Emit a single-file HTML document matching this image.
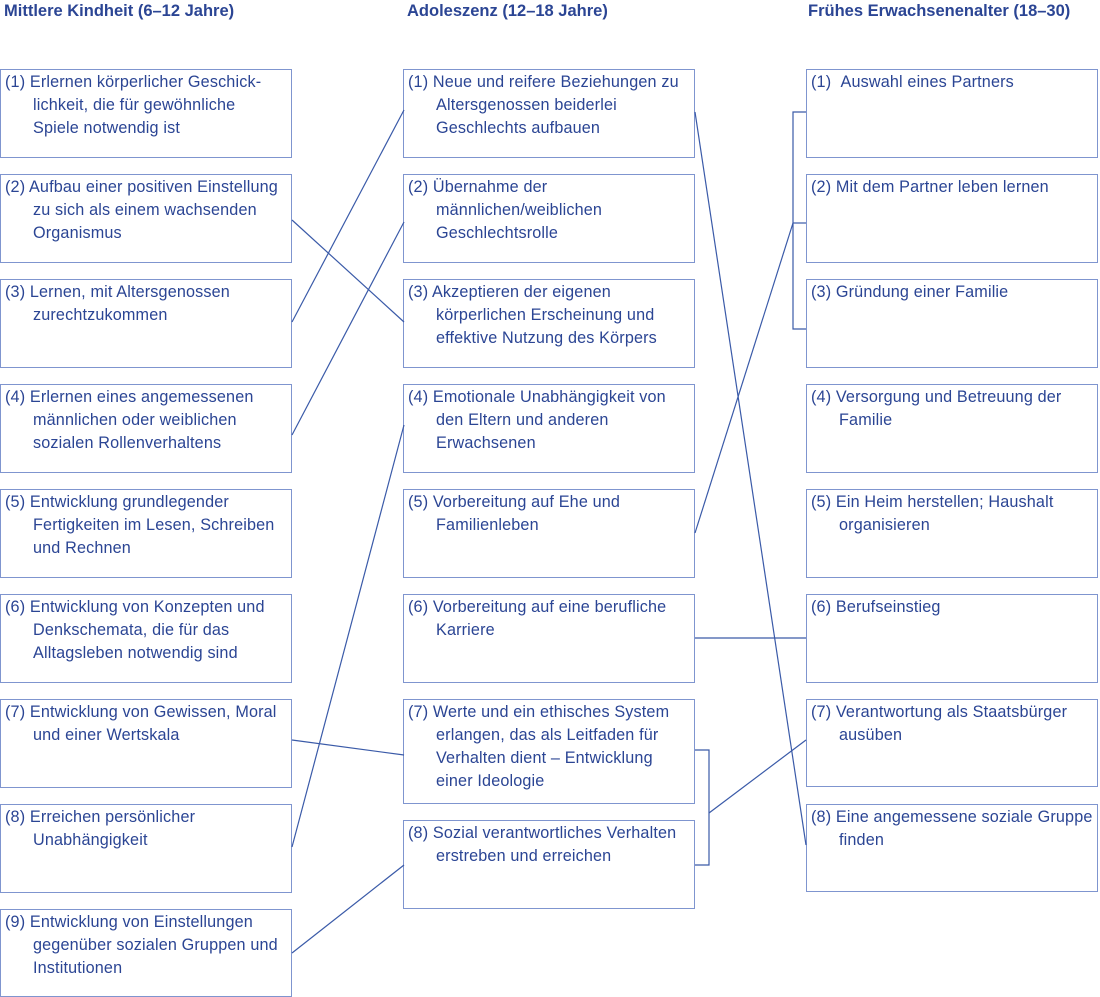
<!DOCTYPE html>
<html><head><meta charset="utf-8"><style>
body{margin:0;width:1100px;height:997px;position:relative;background:#fff;font-family:"Liberation Sans",sans-serif;color:#2b4594;overflow:hidden}
.h{position:absolute;top:2px;font-weight:bold;font-size:16.5px}
.b{position:absolute;width:292px;border:1px solid #7f95cf;box-sizing:border-box;font-size:16.2px;line-height:23px;padding:1px 2px 0 32px;text-indent:-28px;white-space:nowrap;letter-spacing:0.15px}
.b span{display:block;text-indent:0}
svg{position:absolute;left:0;top:0}
</style></head><body>
<div class="h" style="left:4px">Mittlere Kindheit (6–12 Jahre)</div>
<div class="h" style="left:407px">Adoleszenz (12–18 Jahre)</div>
<div class="h" style="left:808px">Frühes Erwachsenenalter (18–30)</div>

<div class="b" style="left:0;top:69px;height:89px">(1) Erlernen körperlicher Geschick-<span>lichkeit, die für gewöhnliche</span><span>Spiele notwendig ist</span></div>
<div class="b" style="left:0;top:174px;height:89px">(2) Aufbau einer positiven Einstellung<span>zu sich als einem wachsenden</span><span>Organismus</span></div>
<div class="b" style="left:0;top:279px;height:89px">(3) Lernen, mit Altersgenossen<span>zurechtzukommen</span></div>
<div class="b" style="left:0;top:384px;height:89px">(4) Erlernen eines angemessenen<span>männlichen oder weiblichen</span><span>sozialen Rollenverhaltens</span></div>
<div class="b" style="left:0;top:489px;height:89px">(5) Entwicklung grundlegender<span>Fertigkeiten im Lesen, Schreiben</span><span>und Rechnen</span></div>
<div class="b" style="left:0;top:594px;height:89px">(6) Entwicklung von Konzepten und<span>Denkschemata, die für das</span><span>Alltagsleben notwendig sind</span></div>
<div class="b" style="left:0;top:699px;height:89px">(7) Entwicklung von Gewissen, Moral<span>und einer Wertskala</span></div>
<div class="b" style="left:0;top:804px;height:89px">(8) Erreichen persönlicher<span>Unabhängigkeit</span></div>
<div class="b" style="left:0;top:909px;height:88px">(9) Entwicklung von Einstellungen<span>gegenüber sozialen Gruppen und</span><span>Institutionen</span></div>

<div class="b" style="left:403px;top:69px;height:89px">(1) Neue und reifere Beziehungen zu<span>Altersgenossen beiderlei</span><span>Geschlechts aufbauen</span></div>
<div class="b" style="left:403px;top:174px;height:89px">(2) Übernahme der<span>männlichen/weiblichen</span><span>Geschlechtsrolle</span></div>
<div class="b" style="left:403px;top:279px;height:89px">(3) Akzeptieren der eigenen<span>körperlichen Erscheinung und</span><span>effektive Nutzung des Körpers</span></div>
<div class="b" style="left:403px;top:384px;height:89px">(4) Emotionale Unabhängigkeit von<span>den Eltern und anderen</span><span>Erwachsenen</span></div>
<div class="b" style="left:403px;top:489px;height:89px">(5) Vorbereitung auf Ehe und<span>Familienleben</span></div>
<div class="b" style="left:403px;top:594px;height:89px">(6) Vorbereitung auf eine berufliche<span>Karriere</span></div>
<div class="b" style="left:403px;top:699px;height:105px">(7) Werte und ein ethisches System<span>erlangen, das als Leitfaden für</span><span>Verhalten dient – Entwicklung</span><span>einer Ideologie</span></div>
<div class="b" style="left:403px;top:820px;height:89px">(8) Sozial verantwortliches Verhalten<span>erstreben und erreichen</span></div>

<div class="b" style="left:806px;top:69px;height:89px">(1) &nbsp;Auswahl eines Partners</div>
<div class="b" style="left:806px;top:174px;height:89px">(2) Mit dem Partner leben lernen</div>
<div class="b" style="left:806px;top:279px;height:89px">(3) Gründung einer Familie</div>
<div class="b" style="left:806px;top:384px;height:89px">(4) Versorgung und Betreuung der<span>Familie</span></div>
<div class="b" style="left:806px;top:489px;height:89px">(5) Ein Heim herstellen; Haushalt<span>organisieren</span></div>
<div class="b" style="left:806px;top:594px;height:89px">(6) Berufseinstieg</div>
<div class="b" style="left:806px;top:699px;height:88px">(7) Verantwortung als Staatsbürger<span>ausüben</span></div>
<div class="b" style="left:806px;top:804px;height:88px">(8) Eine angemessene soziale Gruppe<span>finden</span></div>

<svg width="1100" height="997" fill="none" stroke="#3a5aa8" stroke-width="1.2">
<line x1="292" y1="220" x2="404" y2="322"/>
<line x1="292" y1="322" x2="404" y2="110"/>
<line x1="292" y1="435" x2="404" y2="222"/>
<line x1="292" y1="740" x2="404" y2="755"/>
<line x1="292" y1="847" x2="404" y2="425"/>
<line x1="292" y1="953" x2="404" y2="865"/>
<line x1="695" y1="112" x2="806" y2="845"/>
<line x1="695" y1="533" x2="793" y2="223"/>
<polyline points="806,112 793,112 793,329 806,329"/>
<line x1="793" y1="223" x2="806" y2="223"/>
<line x1="695" y1="638" x2="806" y2="638"/>
<polyline points="695,750 709,750 709,865 695,865"/>
<line x1="709" y1="813" x2="806" y2="740"/>
</svg>
</body></html>
